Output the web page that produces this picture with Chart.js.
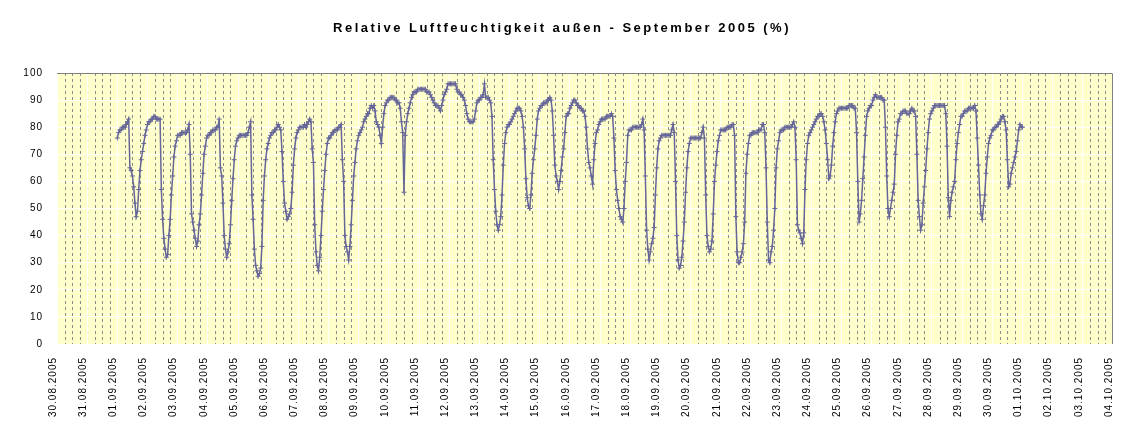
<!DOCTYPE html>
<html>
<head>
<meta charset="utf-8">
<title>Relative Luftfeuchtigkeit außen - September 2005</title>
<script src="https://cdn.jsdelivr.net/npm/chart.js@4/dist/chart.umd.min.js"></script>
<style>
    body { margin: 0; background: #fff; }
    #box { width: 1144px; height: 437px; position: relative; }
</style>
</head>
<body>
<div id="box"><canvas id="humidityChart"></canvas></div>
<script>
const chartTitle = "Relative Luftfeuchtigkeit außen - September 2005 (%)";

// x axis labels, one per day (axis runs 30.08. 00:00 to 04.10. 00:00)
const dayLabels = [
    "30.08.2005", "31.08.2005",
    "01.09.2005", "02.09.2005", "03.09.2005", "04.09.2005", "05.09.2005",
    "06.09.2005", "07.09.2005", "08.09.2005", "09.09.2005", "10.09.2005",
    "11.09.2005", "12.09.2005", "13.09.2005", "14.09.2005", "15.09.2005",
    "16.09.2005", "17.09.2005", "18.09.2005", "19.09.2005", "20.09.2005",
    "21.09.2005", "22.09.2005", "23.09.2005", "24.09.2005", "25.09.2005",
    "26.09.2005", "27.09.2005", "28.09.2005", "29.09.2005", "30.09.2005",
    "01.10.2005", "02.10.2005", "03.10.2005", "04.10.2005"
];

// hourly readings (00:00 ... 23:00) for each day of September, in %
const rhSeptember = [
    [76,78,79,79,80,80,80,81,82,83,65,64,62,58,52,47,49,57,64,68,71,74,77,79], // 01.09.
    [81,82,82,83,83,84,84,83,83,83,83,57,46,39,35,32,33,40,46,55,62,69,73,75],
    [77,77,77,78,78,78,78,78,79,81,70,48,45,42,39,36,38,44,48,55,63,70,73,76],
    [77,77,78,78,79,79,79,80,80,83,65,62,52,40,35,32,34,37,44,53,61,68,73,75],
    [76,77,77,77,77,77,77,77,78,80,82,55,46,35,29,27,25,26,28,36,53,62,68,72], // 05.09.
    [74,76,77,78,78,79,79,80,81,80,79,71,60,52,49,46,47,48,50,56,66,72,76,78],
    [79,80,80,80,80,81,80,81,82,83,82,72,67,44,34,29,27,32,40,49,57,64,70,74],
    [76,76,77,78,78,79,79,79,80,80,81,68,60,40,36,34,31,36,44,53,62,67,72,75],
    [77,78,79,80,82,83,84,85,85,87,88,87,88,86,82,81,80,77,74,80,85,88,89,90],
    [90,91,91,91,91,90,90,89,89,87,82,78,56,77,82,85,87,89,91,92,93,93,93,94], // 10.09.
    [94,94,94,94,94,94,93,93,93,92,91,90,89,88,88,88,87,86,88,90,92,93,94,96],
    [96,96,96,96,96,96,94,93,93,92,92,91,90,88,85,83,82,82,82,82,83,86,89,90],
    [90,91,91,92,96,91,91,91,90,89,84,68,57,49,44,42,44,47,55,66,74,78,80,81],
    [81,82,83,84,85,86,87,87,87,86,84,80,72,61,54,51,50,55,63,68,72,77,83,86],
    [87,88,88,89,89,89,90,90,91,90,86,77,66,62,60,57,60,64,69,72,78,84,85,85], // 15.09.
    [87,88,89,90,90,89,88,88,87,87,86,86,84,80,72,67,65,62,59,68,74,78,79,81],
    [82,83,83,83,83,84,84,84,84,85,84,76,64,57,53,50,47,46,45,50,60,67,77,79],
    [79,79,80,80,80,80,80,80,80,81,83,79,62,42,35,31,34,37,39,43,55,65,72,75],
    [76,77,77,77,77,77,77,77,77,79,81,78,60,40,31,28,29,32,38,45,56,65,71,74],
    [76,76,76,76,76,76,76,76,76,78,80,76,55,40,36,34,35,38,48,60,66,71,75,77], // 20.09.
    [79,79,79,79,79,80,80,80,80,81,81,77,47,34,30,30,32,34,37,45,63,70,74,77],
    [77,78,78,78,78,78,79,79,79,81,81,78,65,45,31,30,34,36,42,50,65,72,75,78],
    [79,79,79,80,80,80,80,80,80,81,82,80,68,44,42,41,39,37,41,57,68,74,77,78],
    [79,80,81,82,83,84,84,85,85,84,82,79,74,68,61,62,66,73,78,82,85,86,87,87],
    [87,87,87,87,87,87,88,88,88,88,87,87,78,60,45,48,53,61,69,77,84,86,87,88], // 25.09.
    [88,90,91,92,91,91,91,91,91,90,90,80,62,50,47,50,53,56,59,70,77,82,83,85],
    [85,86,86,86,85,85,85,86,87,86,86,84,70,53,47,42,44,52,58,64,72,78,83,85],
    [86,87,88,88,88,88,88,88,88,88,88,85,73,54,47,53,56,58,60,68,74,78,81,84],
    [84,85,86,86,86,87,87,87,87,87,88,86,76,66,55,48,46,51,55,63,69,74,76,77],
    [79,79,80,80,81,81,82,83,84,84,82,79,68,58,59,63,65,67,69,71,75,79,81,80]  // 30.09.
];
// last reading, 01.10. 00:00
const rhOctober = [80];

const yTicks = [0, 10, 20, 30, 40, 50, 60, 70, 80, 90, 100];

// build points: x = hours since 30.08.2005 00:00
const points = [];
rhSeptember.forEach(function (day, d) {
    day.forEach(function (v, h) {
        points.push({ x: (d + 2) * 24 + h, y: v });
    });
});
rhOctober.forEach(function (v, h) {
    points.push({ x: 32 * 24 + h, y: v });
});

const totalHours = (dayLabels.length - 1) * 24;
const fontFamily = "'Liberation Sans', Arial, sans-serif";

// spaced out lettering like the original
const letterSpacing = {
    id: "letterSpacing",
    beforeUpdate(chart) { chart.ctx.letterSpacing = "1px"; },
    beforeDraw(chart) { chart.ctx.letterSpacing = "1px"; }
};

// title drawn by hand, it is spaced wider than the axis labels
const titlePlugin = {
    id: "wideTitle",
    afterDraw(chart) {
        const ctx = chart.ctx;
        ctx.save();
        ctx.letterSpacing = "2.5px";
        ctx.font = "bold 13px " + fontFamily;
        ctx.fillStyle = "#000";
        ctx.textAlign = "center";
        ctx.textBaseline = "alphabetic";
        ctx.fillText(chartTitle, 562, 32);
        ctx.restore();
    }
};

// yellow plot area with grey frame on top and right
const plotArea = {
    id: "plotArea",
    beforeDraw(chart) {
        const a = chart.chartArea;
        const ctx = chart.ctx;
        ctx.save();
        ctx.fillStyle = "#FFFFCC";
        ctx.fillRect(a.left, a.top, a.right - a.left, a.bottom - a.top);
        ctx.restore();
    },
    beforeDatasetsDraw(chart) {
        const a = chart.chartArea;
        const ctx = chart.ctx;
        const x = chart.scales.x;
        ctx.save();
        // dashed 6-hour lines
        ctx.strokeStyle = "#8c8c8c";
        ctx.lineWidth = 1;
        ctx.setLineDash([3, 3]);
        for (let v = 6; v < totalHours; v += 6) {
            if (v % 24 === 0) continue;
            const px = Math.round(x.getPixelForValue(v)) + 0.5;
            ctx.beginPath();
            ctx.moveTo(px, a.top);
            ctx.lineTo(px, a.bottom);
            ctx.stroke();
        }
        ctx.setLineDash([]);
        ctx.strokeStyle = "#808080";
        ctx.beginPath();
        ctx.moveTo(a.left, a.top + 0.5);
        ctx.lineTo(a.right - 0.5, a.top + 0.5);
        ctx.lineTo(a.right - 0.5, a.bottom);
        ctx.stroke();
        ctx.restore();
    }
};

const canvas = document.getElementById("humidityChart");

new Chart(canvas, {
    type: "line",
    data: {
        datasets: [{
            label: "Relative Luftfeuchtigkeit außen",
            data: points,
            borderColor: "#666699",
            backgroundColor: "#666699",
            borderWidth: 1.5,
            pointStyle: "cross",
            pointRadius: 2.5,
            pointBorderWidth: 1,
            pointBorderColor: "#666699",
            tension: 0
        }]
    },
    options: {
        responsive: true,
        maintainAspectRatio: false,
        animation: false,
        layout: { padding: { left: 0, right: 31, top: 73, bottom: 0 } },
        plugins: {
            legend: { display: false },
            tooltip: { enabled: false },
            title: { display: false }
        },
        scales: {
            x: {
                type: "linear",
                min: 0,
                max: totalHours,
                afterFit(scale) { scale.height = 93; },
                afterBuildTicks(scale) {
                    scale.ticks = dayLabels.map(function (l, i) { return { value: i * 24 }; });
                },
                ticks: {
                    autoSkip: false,
                    maxRotation: 90,
                    minRotation: 90,
                    padding: 13,
                    labelOffset: -4,
                    color: "#000",
                    font: { family: fontFamily, size: 10 },
                    callback: function (value) { return dayLabels[Math.round(value / 24)]; }
                },
                grid: { color: "#ffffff", lineWidth: 1, drawTicks: false },
                border: { display: false }
            },
            y: {
                min: 0,
                max: 100,
                afterFit(scale) { scale.width = 57; },
                afterBuildTicks(scale) {
                    scale.ticks = yTicks.map(function (v) { return { value: v }; });
                },
                ticks: {
                    padding: 14,
                    color: "#000",
                    font: { family: fontFamily, size: 10 }
                },
                grid: { color: "#ffffff", lineWidth: 1, drawTicks: false },
                border: { display: false }
            }
        }
    },
    plugins: [letterSpacing, plotArea, titlePlugin]
});
</script>
</body>
</html>
